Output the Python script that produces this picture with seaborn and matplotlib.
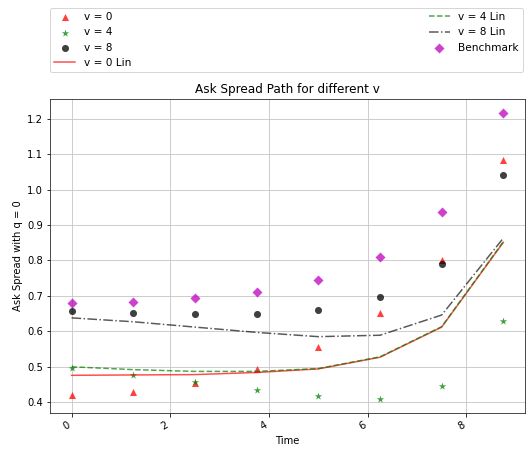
import matplotlib
matplotlib.use("Agg")
import matplotlib.pyplot as plt
import seaborn as sns
import numpy as np

# time grid
time = [0.0, 1.25, 2.5, 3.75, 5.0, 6.25, 7.5, 8.75]

# simulated ask spreads for each v
spread_v0 = [0.420, 0.429, 0.453, 0.495, 0.556, 0.651, 0.801, 1.084]
spread_v4 = [0.498, 0.476, 0.456, 0.435, 0.417, 0.410, 0.446, 0.629]
spread_v8 = [0.656, 0.651, 0.648, 0.648, 0.660, 0.696, 0.789, 1.040]

# linear approximations
lin_v0 = [0.476, 0.477, 0.478, 0.484, 0.494, 0.527, 0.612, 0.851]
lin_v4 = [0.500, 0.492, 0.487, 0.487, 0.495, 0.528, 0.613, 0.853]
lin_v8 = [0.638, 0.627, 0.612, 0.597, 0.585, 0.589, 0.646, 0.863]

benchmark = [0.679, 0.683, 0.693, 0.711, 0.745, 0.811, 0.937, 1.215]

fig = plt.figure(figsize=(526 / 72, 451 / 72), dpi=72)
ax = fig.add_axes([0.095, 0.0843, 0.903, 0.6962])

sns.scatterplot(x=time, y=spread_v0, marker="^", color="r", alpha=0.75, s=50,
                linewidth=0, ax=ax, label="v = 0")
sns.scatterplot(x=time, y=spread_v4, marker="*", color="g", alpha=0.75, s=60,
                linewidth=0, ax=ax, label="v = 4")
sns.scatterplot(x=time, y=spread_v8, marker="o", color="k", alpha=0.75, s=50,
                linewidth=0, ax=ax, label="v = 8")
sns.lineplot(x=time, y=lin_v0, color="r", alpha=0.7, linewidth=1.5, ax=ax,
             label="v = 0 Lin")
sns.lineplot(x=time, y=lin_v4, color="g", alpha=0.7, linestyle="--", linewidth=1.5,
             ax=ax, label="v = 4 Lin")
sns.lineplot(x=time, y=lin_v8, color="k", alpha=0.65, linestyle="-.", linewidth=1.5,
             ax=ax, label="v = 8 Lin")
sns.scatterplot(x=time, y=benchmark, marker="D", color="m", alpha=0.75, s=50,
                linewidth=0, ax=ax, label="Benchmark")

ax.grid(True, color="#c8c8c8", linewidth=0.9)
ax.set_axisbelow(True)
for sp in ax.spines.values():
    sp.set_color("#222222")

ax.set_title("Ask Spread Path for different v", fontsize=12)
ax.set_xlabel("Time", fontsize=10)
ax.set_ylabel("Ask Spread with q = 0", fontsize=10)
ax.tick_params(labelsize=10)
plt.setp(ax.get_xticklabels(), rotation=30, ha="right")

handles, labels = ax.get_legend_handles_labels()
order = ["v = 0", "v = 4", "v = 8", "v = 0 Lin", "v = 4 Lin", "v = 8 Lin", "Benchmark"]
hmap = dict(zip(labels, handles))
ax.legend([hmap[l] for l in order], order, bbox_to_anchor=(0, 1.086, 0.996, 0.2),
          loc="lower left", ncol=2, mode="expand", borderaxespad=0, fontsize=10.5)

fig.savefig("out.png", dpi=72)
